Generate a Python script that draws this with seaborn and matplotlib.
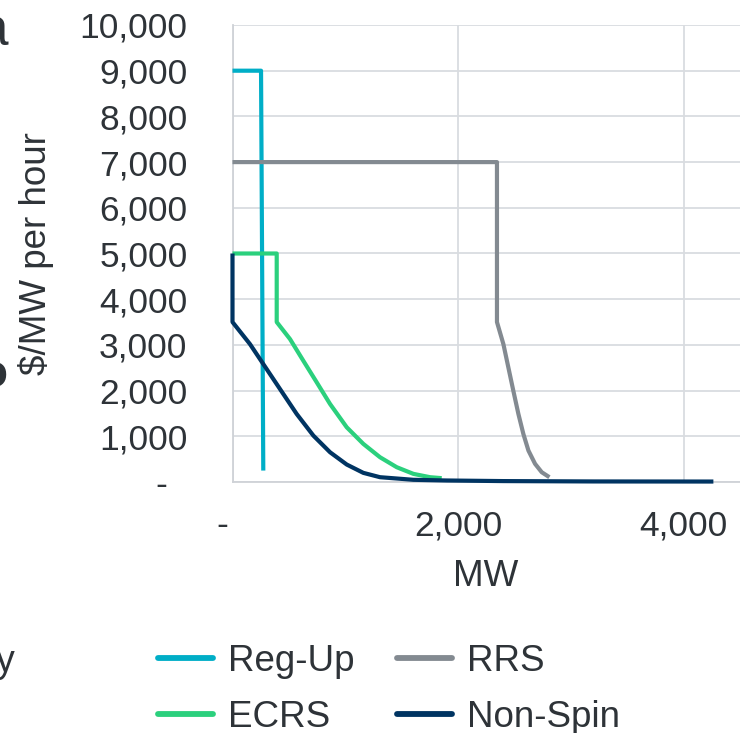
import matplotlib
matplotlib.use("Agg")
import matplotlib.pyplot as plt
from matplotlib.lines import Line2D
import seaborn as sns
import pandas as pd

# ---- data ----
regup_mw = [0, 253, 273]
regup_price = [9000, 9000, 250]

rrs_mw = [0, 2345, 2345, 2402, 2446, 2490, 2535, 2579, 2624, 2683, 2742, 2810]
rrs_price = [7000, 7000, 3500, 3017, 2507, 1998, 1489, 1052, 688, 397, 214, 105]

ecrs_mw = [0, 392, 392, 510, 628, 747, 865, 1013, 1160, 1308, 1456, 1604, 1752, 1855]
ecrs_price = [5000, 5000, 3500, 3127, 2653, 2180, 1707, 1197, 834, 542, 324, 178, 105, 84]

nonspin_mw = [0, 0, 155, 273, 421, 569, 717, 865, 1013, 1160, 1308, 1604, 1900, 2400, 3200, 4264]
nonspin_price = [5000, 3500, 3017, 2581, 2035, 1489, 1015, 651, 382, 200, 105, 48, 33, 20, 12, 10]

series_names = ["Reg-Up", "ECRS", "RRS", "Non-Spin"]
series_colors = {"Reg-Up": "#00AEC7", "ECRS": "#2BD07D", "RRS": "#838A91", "Non-Spin": "#003462"}

y_ticks = [0, 1000, 2000, 3000, 4000, 5000, 6000, 7000, 8000, 9000, 10000]
y_tick_labels = ["-  ", "1,000", "2,000", "3,000", "4,000", "5,000", "6,000",
                 "7,000", "8,000", "9,000", "10,000"]
x_ticks = [0, 2000, 4000]
x_tick_labels = ["-  ", "2,000", "4,000"]

rows = []
for name, xs, ys in [("Reg-Up", regup_mw, regup_price), ("ECRS", ecrs_mw, ecrs_price),
                     ("RRS", rrs_mw, rrs_price), ("Non-Spin", nonspin_mw, nonspin_price)]:
    for i, (x, y) in enumerate(zip(xs, ys)):
        rows.append({"series": name, "order": i, "MW": x, "price": y})
df = pd.DataFrame(rows)

sns.set_theme(style="white")
FONT = ["Liberation Sans", "DejaVu Sans"]
plt.rcParams["font.family"] = FONT
TXT = "#2E3338"
GRID = "#D9DCE0"

W, H = 740, 733
fig = plt.figure(figsize=(W / 100, H / 100), dpi=100)
ax_left, ax_right, ax_top, ax_bottom = 232.5, 740, 25, 482
ax = fig.add_axes([ax_left / W, 1 - ax_bottom / H, (ax_right - ax_left) / W, (ax_bottom - ax_top) / H])

sns.lineplot(data=df, x="MW", y="price", hue="series", units="series", sort=False,
             estimator=None, hue_order=series_names, palette=series_colors,
             linewidth=3.0, ax=ax, legend=False)
for ln in ax.get_lines():
    ln.set_solid_joinstyle("round")
    ln.set_solid_capstyle("butt")
    ln.set_clip_on(False)
    ln.set_zorder(3)

ax.set_xlim(0, 4500)
ax.set_ylim(0, 10000)
ax.set_yticks(y_ticks)
ax.set_yticklabels(y_tick_labels)
ax.set_xticks(x_ticks)
ax.set_xticklabels(x_tick_labels)
ax.tick_params(axis="y", length=0, pad=32.5, labelsize=25.5, labelcolor=TXT)
ax.tick_params(axis="x", length=0, pad=19.5, labelsize=25.5, labelcolor=TXT)
ax.grid(True, color=GRID, linewidth=1.3)
ax.set_axisbelow(True)
for s in ["top", "right"]:
    ax.spines[s].set_visible(False)
for s in ["left", "bottom"]:
    ax.spines[s].set_color("#CFD2D7")
    ax.spines[s].set_linewidth(1.3)
    ax.spines[s].set_zorder(1)

ax.set_ylabel("$/MW per hour", fontsize=26.5, color=TXT, va="center")
ax.yaxis.set_label_coords((36 - ax_left) / (ax_right - ax_left), 0.5)
ax.set_xlabel("MW", fontsize=26.5, color=TXT, va="center")
ax.xaxis.set_label_coords((486 - ax_left) / (ax_right - ax_left), -(576 - ax_bottom) / (ax_bottom - ax_top))

handles = [Line2D([0], [0], color=series_colors[n], lw=4.2, solid_capstyle="round") for n in series_names]
leg = fig.legend(handles, series_names, ncol=2, loc="upper left",
                 bbox_to_anchor=(158 / W, 1 - 644 / H), frameon=False, fontsize=26.5,
                 handlelength=1.5, handletextpad=0.4, columnspacing=1.15,
                 labelspacing=0.58, borderpad=0, borderaxespad=0)
for t in leg.get_texts():
    t.set_color(TXT)

# cropped fragments of neighbouring text at the left edge
fig.text(8 / W, 1 - 45 / H, "a", ha="right", va="baseline", fontsize=37, color=TXT)
fig.text(7 / W, 1 - 387 / H, "o", ha="right", va="baseline", fontsize=33, fontweight="bold", color=TXT)
fig.text(15 / W, 1 - 672 / H, "y", ha="right", va="baseline", fontsize=27, color=TXT)

fig.savefig("out.png", dpi=100)
